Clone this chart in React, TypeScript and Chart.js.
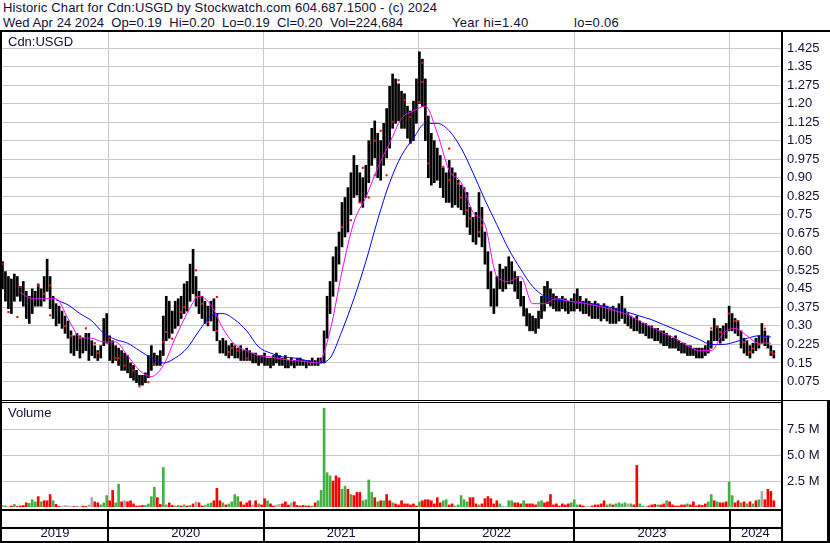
import React, { useEffect, useRef } from "react";
import { Chart, registerables } from "chart.js";
Chart.register(...registerables);

const FONT = '"Liberation Sans", Arial, Helvetica, sans-serif';
const TEXT = "#101038";
const GRID = "#c8c8c8";

const headerLine1 = "Historic Chart for Cdn:USGD by Stockwatch.com 604.687.1500 - (c) 2024";
const headerQuote = "Wed Apr 24 2024  Op=0.19  Hi=0.20  Lo=0.19  Cl=0.20  Vol=224,684";
const headerYearHi = "Year hi=1.40";
const headerYearLo = "lo=0.06";
const symbolLabel = "Cdn:USGD";
const volumeLabel = "Volume";

// time axis (fractional years)
const RANGE_START = 2019.317;
const RANGE_END = 2024.33;
const FIRST_WEEK = 2019.32;
const WEEK = 7 / 365.25;
const yearBoundaries = [2020, 2021, 2022, 2023, 2024];
const yearLabels = ["2019", "2020", "2021", "2022", "2023", "2024"];

// price axis
const PRICE_MAX = 1.49;
const priceTicks = [0.075, 0.15, 0.225, 0.3, 0.375, 0.45, 0.525, 0.6, 0.675, 0.75, 0.825, 0.9, 0.975, 1.05, 1.125, 1.2, 1.275, 1.35, 1.425];
const priceTickLabels = ["0.075", "0.15", "0.225", "0.30", "0.375", "0.45", "0.525", "0.60", "0.675", "0.75", "0.825", "0.90", "0.975", "1.05", "1.125", "1.20", "1.275", "1.35", "1.425"];

// volume axis
const VOLUME_MAX = 10e6;
const volumeTicks = [2.5e6, 5e6, 7.5e6];
const volumeTickLabels = ["2.5 M", "5.0 M", "7.5 M"];

// weekly highs / lows (Cdn$)
const weeklyHigh = [
  0.56, 0.52, 0.50, 0.49, 0.51, 0.50, 0.46, 0.48, 0.44, 0.42,
  0.45, 0.44, 0.47, 0.45, 0.50, 0.57, 0.50, 0.42, 0.39, 0.38,
  0.36, 0.34, 0.32, 0.28, 0.26, 0.27, 0.26, 0.25, 0.27, 0.27,
  0.24, 0.22, 0.20, 0.22, 0.33, 0.35, 0.26, 0.24, 0.22, 0.21,
  0.20, 0.19, 0.18, 0.15, 0.14, 0.12, 0.10, 0.10, 0.11, 0.18,
  0.22, 0.19, 0.18, 0.20, 0.34, 0.42, 0.40, 0.36, 0.40, 0.41,
  0.42, 0.47, 0.48, 0.55, 0.61, 0.50, 0.44, 0.42, 0.40, 0.38,
  0.40, 0.41, 0.35, 0.24, 0.25, 0.24, 0.22, 0.23, 0.22, 0.21,
  0.22, 0.20, 0.21, 0.20, 0.19, 0.19, 0.18, 0.18, 0.19, 0.17,
  0.17, 0.18, 0.19, 0.18, 0.17, 0.18, 0.16, 0.17, 0.16, 0.17,
  0.17, 0.16, 0.16, 0.16, 0.17, 0.16, 0.17, 0.17, 0.28, 0.42,
  0.48, 0.58, 0.62, 0.68, 0.80, 0.82, 0.86, 0.92, 0.99, 0.95,
  0.92, 0.90, 0.95, 1.05, 1.10, 1.13, 1.08, 1.05, 1.12, 1.18,
  1.27, 1.32, 1.30, 1.28, 1.25, 1.24, 1.19, 1.17, 1.21, 1.30,
  1.41, 1.38, 1.30, 1.15, 1.08, 1.05, 1.02, 0.99, 0.94, 0.92,
  0.97, 0.94, 0.92, 0.89, 0.87, 0.86, 0.84, 0.78, 0.74, 0.76,
  0.84, 0.78, 0.68, 0.60, 0.52, 0.45, 0.50, 0.55, 0.53, 0.54,
  0.58, 0.56, 0.52, 0.50, 0.48, 0.42, 0.37, 0.35, 0.34, 0.33,
  0.36, 0.42, 0.46, 0.48, 0.45, 0.43, 0.42, 0.41, 0.42, 0.41,
  0.40, 0.41, 0.43, 0.45, 0.42, 0.40, 0.41, 0.40, 0.39, 0.40,
  0.39, 0.38, 0.39, 0.38, 0.37, 0.38, 0.37, 0.39, 0.42, 0.37,
  0.35, 0.34, 0.33, 0.34, 0.32, 0.31, 0.31, 0.30, 0.30, 0.29,
  0.29, 0.28, 0.28, 0.27, 0.26, 0.25, 0.26, 0.24, 0.23, 0.23,
  0.22, 0.22, 0.21, 0.21, 0.21, 0.21, 0.22, 0.24, 0.28, 0.33,
  0.30, 0.29, 0.30, 0.31, 0.38, 0.35, 0.33, 0.32, 0.28, 0.25,
  0.24, 0.22, 0.23, 0.25, 0.26, 0.31, 0.28, 0.26, 0.22, 0.20,
];
const weeklyLow = [
  0.45, 0.40, 0.37, 0.35, 0.40, 0.42, 0.40, 0.38, 0.33, 0.31,
  0.35, 0.38, 0.38, 0.38, 0.40, 0.44, 0.37, 0.33, 0.30, 0.31,
  0.29, 0.27, 0.25, 0.19, 0.18, 0.20, 0.17, 0.19, 0.20, 0.16,
  0.18, 0.17, 0.16, 0.17, 0.22, 0.23, 0.16, 0.15, 0.16, 0.14,
  0.12, 0.12, 0.11, 0.09, 0.08, 0.07, 0.06, 0.06, 0.07, 0.09,
  0.12, 0.14, 0.14, 0.14, 0.18, 0.24, 0.25, 0.27, 0.29, 0.30,
  0.33, 0.35, 0.36, 0.40, 0.43, 0.38, 0.35, 0.33, 0.31, 0.30,
  0.32, 0.28, 0.24, 0.19, 0.19, 0.18, 0.17, 0.18, 0.17, 0.17,
  0.16, 0.16, 0.16, 0.16, 0.15, 0.15, 0.14, 0.15, 0.14, 0.14,
  0.13, 0.14, 0.15, 0.14, 0.14, 0.13, 0.13, 0.14, 0.13, 0.14,
  0.14, 0.14, 0.13, 0.14, 0.14, 0.14, 0.14, 0.15, 0.15, 0.25,
  0.35, 0.42, 0.48, 0.55, 0.62, 0.66, 0.68, 0.75, 0.82, 0.83,
  0.80, 0.78, 0.82, 0.88, 0.95, 0.98, 0.90, 0.89, 0.95, 0.98,
  1.02, 1.10, 1.12, 1.13, 1.10, 1.10, 1.06, 1.04, 1.05, 1.12,
  1.20, 1.19, 1.05, 0.90, 0.87, 0.88, 0.89, 0.86, 0.82, 0.80,
  0.80, 0.78, 0.79, 0.78, 0.77, 0.75, 0.70, 0.67, 0.64, 0.63,
  0.66, 0.62, 0.55, 0.45, 0.38, 0.35, 0.38, 0.45, 0.44, 0.45,
  0.47, 0.47, 0.44, 0.41, 0.38, 0.34, 0.30, 0.28, 0.28, 0.27,
  0.29, 0.33, 0.36, 0.39, 0.38, 0.37, 0.36, 0.36, 0.37, 0.36,
  0.35, 0.36, 0.36, 0.37, 0.36, 0.35, 0.35, 0.34, 0.33, 0.33,
  0.33, 0.32, 0.33, 0.32, 0.31, 0.31, 0.31, 0.32, 0.33, 0.31,
  0.30, 0.29, 0.28, 0.28, 0.27, 0.27, 0.26, 0.25, 0.25, 0.24,
  0.24, 0.23, 0.22, 0.22, 0.21, 0.21, 0.21, 0.20, 0.19, 0.19,
  0.18, 0.18, 0.18, 0.17, 0.17, 0.17, 0.18, 0.19, 0.21, 0.24,
  0.24, 0.23, 0.24, 0.25, 0.28, 0.28, 0.27, 0.26, 0.21, 0.19,
  0.18, 0.17, 0.19, 0.20, 0.21, 0.23, 0.22, 0.21, 0.18, 0.17,
];

// small red marks drawn on the price bars (week index, price)
const redMarkWeeks = [
  0, 2, 5, 6, 12, 14, 16, 16, 21, 23, 26, 28, 31, 32, 36, 38, 39, 41, 44, 46,
  49, 51, 54, 55, 57, 60, 61, 65, 65, 67, 69, 72, 72, 76, 77, 79, 82,
  114, 117, 120, 121, 123, 125, 125, 127, 129, 131, 133, 135, 137, 137, 140, 141, 141, 143, 148,
  150, 150, 153, 154, 156, 157, 160, 161,
  238, 240, 241, 244, 246, 247, 249, 251, 252, 254, 256, 256, 258, 259,
];
const redMarkPrices = [
  0.55, 0.356, 0.336, 0.457, 0.464, 0.43, 0.464, 0.343, 0.30, 0.26, 0.25, 0.29, 0.23, 0.19, 0.25, 0.17, 0.17, 0.14, 0.12, 0.055,
  0.072, 0.147, 0.234, 0.275, 0.248, 0.356, 0.376, 0.525, 0.417, 0.39, 0.315, 0.417, 0.28, 0.194, 0.21, 0.20, 0.168,
  0.70, 0.728, 0.80, 0.94, 0.82, 0.91, 1.05, 1.09, 0.91, 1.126, 1.295, 1.214, 1.146, 1.04, 1.207, 1.365, 1.288, 0.958, 0.944,
  1.018, 0.89, 0.876, 0.82, 0.768, 0.735, 0.68, 0.707,
  0.29, 0.295, 0.275, 0.35, 0.32, 0.32, 0.234, 0.194, 0.208, 0.225, 0.289, 0.255, 0.194, 0.187,
];

// moving averages, sampled every 4 weeks
const MA_STEP = 4;
const fastMaStartWeek = 6;
const fastMa = [
  0.435, 0.41, 0.41, 0.41, 0.33, 0.255, 0.25, 0.235, 0.235, 0.18,
  0.12, 0.095, 0.14, 0.25, 0.35, 0.42, 0.385, 0.29, 0.225, 0.20,
  0.18, 0.175, 0.165, 0.16, 0.155, 0.15, 0.28, 0.52, 0.72, 0.82,
  0.94, 1.04, 1.14, 1.17, 1.19, 1.08, 0.93, 0.88, 0.76, 0.71,
  0.50, 0.48, 0.50, 0.39, 0.39, 0.41, 0.40, 0.395, 0.385, 0.375,
  0.36, 0.345, 0.32, 0.295, 0.27, 0.25, 0.22, 0.20, 0.20, 0.27,
  0.29, 0.26, 0.23, 0.23,
];
const slowMaStartWeek = 18;
const slowMa = [
  0.405, 0.385, 0.35, 0.32, 0.27, 0.245, 0.23, 0.20, 0.17, 0.15,
  0.17, 0.21, 0.28, 0.34, 0.35, 0.325, 0.28, 0.215, 0.19, 0.175,
  0.17, 0.16, 0.15, 0.17, 0.28, 0.41, 0.56, 0.73, 0.88, 0.99,
  1.06, 1.12, 1.12, 1.09, 1.02, 0.92, 0.81, 0.71, 0.61, 0.53,
  0.46, 0.42, 0.405, 0.40, 0.395, 0.39, 0.38, 0.37, 0.355, 0.34,
  0.325, 0.305, 0.285, 0.265, 0.245, 0.225, 0.225, 0.235, 0.25, 0.26,
  0.255,
];

// weekly volume in millions of shares, and direction (g up, r down, n unchanged)
const weeklyVolumeM = [
  0.15, 0.1, 0.05, 0.1, 0.25, 0.05, 0.1, 0.15, 0.4, 0.35,
  0.7, 0.5, 1.0, 0.5, 0.6, 0.6, 1.2, 0.6, 0.25, 0.05,
  0.05, 0.15, 0.1, 0.05, 0.05, 0.1, 0.05, 0.1, 0.05, 0.2,
  0.9, 0.5, 0.4, 0.2, 0.4, 1.1, 0.6, 1.6, 0.4, 2.2,
  0.5, 0.6, 0.5, 0.6, 0.3, 0.1, 0.1, 0.15, 0.15, 0.3,
  1.0, 1.9, 0.9, 0.25, 3.8, 0.2, 0.4, 0.15, 0.1, 0.15,
  0.1, 0.2, 0.1, 0.15, 0.3, 0.5, 0.4, 0.1, 0.15, 0.3,
  0.4, 0.6, 1.8, 0.6, 0.4, 0.2, 0.3, 0.5, 1.2, 1.0,
  0.5, 0.2, 0.4, 0.6, 0.2, 0.6, 0.3, 0.2, 0.8, 0.6,
  0.3, 0.1, 0.2, 0.25, 0.3, 0.5, 0.2, 0.4, 0.5, 0.15,
  0.1, 0.15, 0.1, 0.1, 0.1, 0.4, 0.6, 1.6, 9.5, 3.3,
  3.0, 2.5, 3.0, 2.8, 1.7, 2.0, 1.7, 1.2, 1.1, 1.4,
  1.4, 0.6, 0.7, 2.6, 1.4, 0.9, 0.5, 0.6, 0.6, 1.2,
  0.6, 0.4, 0.3, 0.2, 0.6, 0.3, 0.3, 0.2, 0.3, 0.1,
  0.5, 0.6, 0.7, 0.7, 0.6, 0.3, 0.9, 0.4, 0.6, 0.7,
  0.2, 0.3, 0.1, 0.2, 1.1, 0.7, 0.5, 0.9, 0.9, 0.3,
  0.2, 0.3, 0.8, 1.0, 0.8, 0.3, 0.6, 0.3, 0.1, 0.05,
  0.6, 0.6, 0.4, 0.4, 0.3, 0.6, 0.3, 0.3, 0.3, 0.2,
  0.5, 0.6, 0.4, 0.5, 1.2, 0.2, 0.3, 0.1, 0.3, 0.2,
  0.3, 0.4, 0.7, 0.2, 0.2, 0.1, 0.05, 0.05, 0.1, 0.2,
  0.2, 0.3, 0.6, 0.2, 0.3, 0.2, 0.3, 0.4, 0.3, 0.4,
  0.3, 0.3, 0.2, 4.0, 0.3, 0.1, 0.05, 0.1, 0.2, 0.25,
  0.2, 0.2, 0.3, 0.6, 0.5, 0.2, 0.1, 0.1, 0.2, 0.2,
  0.3, 0.2, 0.5, 0.1, 0.2, 0.15, 0.3, 0.5, 1.2, 0.6,
  0.5, 0.4, 0.4, 0.5, 2.4, 1.1, 0.4, 0.6, 0.4, 0.5,
  0.3, 0.5, 0.3, 0.6, 0.7, 1.5, 0.7, 1.7, 1.5, 0.6,
];
const volumeDirection = [
  "ngnrgrrrrg", "ggrgrrrgrr", "nnnnrnnrrn", "nrrgggrrgg", "rnrrrrrrgg",
  "ggrrggrrgg", "rgrgrnrrgg", "grrrgrgggg", "rrrrnrgrrg", "rrnnrrrnrr",
  "rrrrgrgggg", "grrrggrgrr", "rggggrgrgr", "rgrrrrrrrr", "grrrrrrrgg",
  "rrgggggrrr", "grrrrrrgnn", "ggrrrgrrrr", "ggrrrrrrrr", "rgggrrnnrr",
  "rrrggrgggg", "ngrrggnrrr", "grrgrrrrrr", "grrrrrrggr", "grrrggrrgr",
  "grgrgnrrrr",
].join("");

const DIR_COLORS: Record<string, string> = { g: "#44b044", r: "#ff0000", n: "#a8a8a8" };

const weekX = (i: number) => FIRST_WEEK + i * WEEK;

const tickFont = { family: FONT, size: 13 };

function zeroPadding(scale: any) {
  scale.paddingTop = 0;
  scale.paddingBottom = 0;
  scale.paddingLeft = 0;
  scale.paddingRight = 0;
}

function timeGridAxis() {
  return {
    type: "linear",
    position: "bottom",
    min: RANGE_START,
    max: RANGE_END,
    offset: false,
    weight: 0,
    afterBuildTicks: (scale: any) => {
      scale.ticks = yearBoundaries.map((v) => ({ value: v }));
    },
    afterFit: (scale: any) => {
      scale.height = 0;
      zeroPadding(scale);
    },
    ticks: { display: false },
    grid: { color: GRID, lineWidth: 1, drawTicks: false, offset: false },
    border: { display: false },
  };
}

function priceConfig(): any {
  const bars = weeklyHigh.map((h, i) => ({ x: weekX(i), y: [weeklyLow[i], h] }));
  const fast = fastMa.map((v, k) => ({ x: weekX(fastMaStartWeek + k * MA_STEP), y: v }));
  const slow = slowMa.map((v, k) => ({ x: weekX(slowMaStartWeek + k * MA_STEP), y: v }));
  const marks = redMarkWeeks.map((w, k) => ({ x: weekX(w), y: redMarkPrices[k] }));
  return {
    type: "bar",
    data: {
      datasets: [
        {
          type: "line",
          data: fast,
          borderColor: "#ff00ff",
          borderWidth: 1,
          pointRadius: 0,
          pointHitRadius: 0,
          cubicInterpolationMode: "monotone",
          order: 1,
          xAxisID: "x",
          yAxisID: "y",
        },
        {
          type: "line",
          data: slow,
          borderColor: "#0000ff",
          borderWidth: 1,
          pointRadius: 0,
          pointHitRadius: 0,
          cubicInterpolationMode: "monotone",
          order: 2,
          xAxisID: "x",
          yAxisID: "y",
        },
        {
          type: "scatter",
          data: marks,
          pointStyle: "rect",
          pointRadius: 1.45,
          pointHoverRadius: 1.45,
          pointHitRadius: 0,
          pointBackgroundColor: "#ff0000",
          pointBorderWidth: 0,
          borderWidth: 0,
          showLine: false,
          order: 2.5,
          xAxisID: "x",
          yAxisID: "y",
        },
        {
          type: "bar",
          data: bars,
          backgroundColor: "#000000",
          borderWidth: 0,
          barThickness: 2,
          order: 3,
          xAxisID: "x",
          yAxisID: "y",
        },
      ],
    },
    options: {
      responsive: false,
      animation: false,
      devicePixelRatio: 1,
      layout: { autoPadding: false, padding: { left: 2, right: 0, top: 0, bottom: 0 } },
      plugins: { legend: { display: false }, tooltip: { enabled: false }, title: { display: false } },
      scales: {
        x: timeGridAxis(),
        y: {
          type: "linear",
          position: "right",
          min: 0,
          max: PRICE_MAX,
          afterBuildTicks: (scale: any) => {
            scale.ticks = priceTicks.map((v) => ({ value: v }));
          },
          afterFit: (scale: any) => {
            scale.width = 49;
            zeroPadding(scale);
          },
          ticks: {
            color: TEXT,
            font: tickFont,
            padding: 6,
            callback: (_v: any, i: number) => priceTickLabels[i],
          },
          grid: { color: GRID, lineWidth: 1, drawTicks: false },
          border: { display: false },
        },
      },
    },
  };
}

const yearRowPlugin = {
  id: "yearRows",
  afterDraw(chart: any) {
    const { ctx, chartArea } = chart;
    const xs = chart.scales.x;
    const rowTop = chartArea.bottom + 2;
    ctx.save();
    ctx.fillStyle = "#000";
    ctx.fillRect(0, rowTop, chartArea.right, 2);
    ctx.fillRect(0, rowTop + 18, chartArea.right, 2);
    ctx.fillRect(0, chart.height - 2, chart.width, 2);
    yearBoundaries.forEach((b) => {
      const px = Math.round(xs.getPixelForValue(b));
      ctx.fillRect(px - 1, rowTop, 2, chart.height - rowTop);
    });
    ctx.restore();
  },
};

function volumeConfig(): any {
  const bars = weeklyVolumeM.map((v, i) => ({ x: weekX(i), y: v * 1e6 }));
  const colors = weeklyVolumeM.map((_v, i) => DIR_COLORS[volumeDirection[i]] || DIR_COLORS.n);
  return {
    type: "bar",
    data: {
      datasets: [
        {
          data: bars,
          backgroundColor: colors,
          borderWidth: 0,
          barThickness: 2,
          xAxisID: "x",
          yAxisID: "y",
        },
      ],
    },
    options: {
      responsive: false,
      animation: false,
      devicePixelRatio: 1,
      layout: { autoPadding: false, padding: { left: 2, right: 0, top: 0, bottom: 0 } },
      plugins: { legend: { display: false }, tooltip: { enabled: false }, title: { display: false } },
      scales: {
        x: timeGridAxis(),
        xYear: {
          type: "linear",
          position: "bottom",
          min: RANGE_START,
          max: RANGE_END,
          offset: false,
          weight: 1,
          afterBuildTicks: (scale: any) => {
            const edges = [scale.min, ...yearBoundaries, scale.max];
            scale.ticks = yearLabels.map((_l, i) => ({ value: (edges[i] + edges[i + 1]) / 2 }));
          },
          afterFit: (scale: any) => {
            scale.height = 36;
            zeroPadding(scale);
          },
          ticks: {
            color: TEXT,
            font: tickFont,
            padding: 19,
            maxRotation: 0,
            autoSkip: false,
            callback: (_v: any, i: number) => yearLabels[i],
          },
          grid: { display: false, drawTicks: false },
          border: { display: false },
        },
        y: {
          type: "linear",
          position: "right",
          min: 0,
          max: VOLUME_MAX,
          afterBuildTicks: (scale: any) => {
            scale.ticks = volumeTicks.map((v) => ({ value: v }));
          },
          afterFit: (scale: any) => {
            scale.width = 49;
            zeroPadding(scale);
          },
          ticks: {
            color: TEXT,
            font: tickFont,
            padding: 6,
            callback: (_v: any, i: number) => volumeTickLabels[i],
          },
          grid: { color: GRID, lineWidth: 1, drawTicks: false },
          border: { display: false },
        },
      },
    },
    plugins: [yearRowPlugin],
  };
}

const line = (left: number, top: number, width: number, height: number): React.CSSProperties => ({
  position: "absolute",
  left,
  top,
  width,
  height,
  background: "#000",
  pointerEvents: "none",
});

const textStyle = (left: number, top: number, spacing = 0): React.CSSProperties => ({
  position: "absolute",
  left,
  top,
  fontFamily: FONT,
  fontSize: 13,
  lineHeight: "15px",
  color: TEXT,
  whiteSpace: "pre",
  letterSpacing: spacing,
});

export default function App() {
  const priceRef = useRef<HTMLCanvasElement>(null);
  const volRef = useRef<HTMLCanvasElement>(null);

  useEffect(() => {
    const pc = new Chart(priceRef.current as HTMLCanvasElement, priceConfig());
    const vc = new Chart(volRef.current as HTMLCanvasElement, volumeConfig());
    return () => {
      pc.destroy();
      vc.destroy();
    };
  }, []);

  return (
    <div style={{ position: "absolute", left: 0, top: 0, width: 830, height: 543, background: "#fff", overflow: "hidden" }}>
      <div style={textStyle(3, 0, 0.145)}>{headerLine1}</div>
      <div style={textStyle(3, 15, 0.05)}>{headerQuote}</div>
      <div style={textStyle(452, 15, 0.3)}>{headerYearHi}</div>
      <div style={textStyle(574, 15, 0.3)}>{headerYearLo}</div>
      <canvas ref={priceRef} width={830} height={368} style={{ position: "absolute", left: 0, top: 32, display: "block" }} />
      <canvas ref={volRef} width={830} height={140} style={{ position: "absolute", left: 0, top: 403, display: "block" }} />
      <div style={textStyle(8, 34)}>{symbolLabel}</div>
      <div style={textStyle(8, 405)}>{volumeLabel}</div>
      <div style={line(0, 30, 830, 2)} />
      <div style={line(0, 30, 2, 513)} />
      <div style={line(781, 30, 2, 513)} />
      <div style={line(0, 400, 830, 1)} />
      <div style={line(0, 402, 781, 1)} />
      <div style={line(827, 400, 3, 143)} />
    </div>
  );
}
